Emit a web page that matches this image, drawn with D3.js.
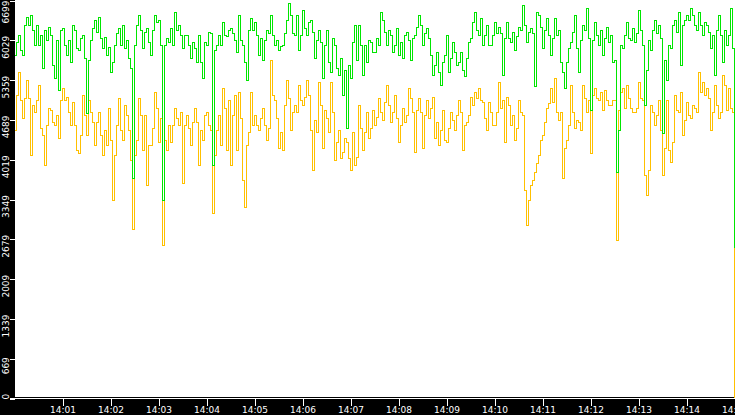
<!DOCTYPE html>
<html>
<head>
<meta charset="utf-8">
<script src="https://cdn.jsdelivr.net/npm/d3@7"></script>
<style>
  html, body { margin: 0; padding: 0; background: #000; overflow: hidden; }
  svg { display: block; }
  text { font-family: "DejaVu Sans", Verdana, sans-serif; font-size: 9px; fill: #fff; }
</style>
</head>
<body>
<svg id="chart" width="735" height="415"></svg>
<script>
// y tick labels as the chart prints them
var yTicks = [0, 669, 1339, 2009, 2679, 3349, 4019, 4689, 5359, 6029, 6699];

// one sample every 2.5 s, starting 14:00:00
var sampleSec = 2.5;
var startTime = new Date(2000, 0, 1, 14, 0, 0);
var endTime = new Date(2000, 0, 1, 14, 15, 0);

var greenVals = [
  5770,5990, 6110,5860, 5770,6280, 6410,6280, 6450,6190, 5940,6280, 5940,6110, 5550,6190, 6030,6250, 6110,5610,
  5390,6030, 5180,6190, 6230,5940, 5770,6030, 5660,6280, 6190,5890, 5860,6060, 6110,5720, 4800,5690, 6030,6230,
  6360,6160, 6410,6060, 5890,6080, 5770,5910, 5490,5660, 5940,6140, 6230,5940, 6280,5890, 6030,5720, 5550,3700,
  5940,6280, 6450,6190, 5890,6160, 6230,5990, 5770,6190, 6450,6330, 6360,5940, 3330,5940, 6060,5990, 6230,5940,
  6500,6190, 6280,6110, 5890,6110, 6110,5940, 5720,5990, 5890,5660, 6110,5660, 5390,5990, 5940,6160, 6140,3920,
  5860,5940, 6110,5940, 6330,6110, 6090,6190, 6230,6140, 6030,5820, 6450,6030, 5940,5660, 5350,6190, 6400,6190,
  6330,6110, 5770,6060, 5690,6030, 6190,6140, 6450,6110, 5940,6030, 5860,5920, 5940,6140, 6360,6650, 6450,6140,
  6110,6450, 5860,6110, 6530,6230, 6110,6330, 6360,6160, 5720,6030, 6190,5990, 5390,5940, 6190,5660, 5490,6060,
  5940,5550, 5440,5720, 5100,5520, 4540,5610, 5390,5990, 6280,5690, 6280,5940, 5440,5940, 5660,6030, 5990,5820,
  5820,6060, 5940,6500, 6360,6160, 5940,6190, 6110,5820, 5940,6230, 5770,5990, 5720,6110, 6160,6030, 5690,6060,
  6110,6250, 6450,6280, 5940,6140, 6230,6060, 5770,5440, 5610,5820, 5490,5270, 5660,5770, 6110,5490, 5720,5990,
  5820,5610, 5660,5820, 5520,5420, 5720,5990, 6060,6330, 6500,6190, 6110,6400, 5940,6110, 6280,5940, 5940,6110,
  6330,6140, 6250,6140, 5440,6060, 6330,6060, 5990,6160, 5860,6090, 6250,6190, 6620,6280, 5990,6160, 6230,6140,
  5250,6500, 6450,6250, 5890,6190, 6400,6110, 5770,6060, 6400,6110, 6190,5660, 5490,5220, 5660,5890, 5990,6160,
  6450,5890, 5490,6030, 6280,6190, 6570,6060, 4850,6030, 6330,6110, 5940,6190, 5770,6060, 6250,5990, 6110,5660,
  5690,3800, 4510,5940, 5890,6110, 6330,6060, 6030,6230, 5990,6140, 6530,6190, 5940,4930, 5520,6030, 5860,6190,
  6360,6140, 6280,6060, 4460,5690, 5350,5940, 5890,6280, 6360,6160, 6500,5610, 6280,6360, 6450,6360, 6570,6450,
  6280,6190, 6500,6280, 6110,6330, 6280,6160, 5890,6110, 5440,6190, 6450,6110, 5660,6190, 5940,6110, 6570,5890,
  2540
];

var orangeVals = [
  4510,5100, 5490,5020, 4710,5050, 5350,5050, 4090,4930, 4810,5020, 5270,4540, 4430,3920, 4600,4880, 4850,4650,
  4600,4760, 4380,5020, 5220,5020, 5070,4810, 4600,4980, 4600,4170, 4120,4430, 5100,4760, 4430,5020, 4810,4650,
  4260,4650, 4810,4430, 4090,4510, 4260,4880, 4340,3330, 4090,4600, 5050,4510, 4340,4930, 4760,4510, 4010,2840,
  4090,4340, 5050,4760, 4170,4760, 3590,4260, 4260,4540, 5150,4880, 4310,4710, 2580,4340, 4170,4600, 4310,4600,
  4880,4710, 4600,4810, 3620,4600, 4760,4540, 4260,4650, 4880,4650, 3920,4510, 4340,4760, 4810,4600, 4510,3110,
  4090,4510, 4760,4260, 5220,4880, 4170,5020, 3920,4760, 5100,4170, 5150,4710, 3670,3220, 4260,4480, 5150,4600,
  4760,4600, 4510,4710, 4880,4600, 4340,4540, 5690,5100, 5020,4710, 4210,4480, 4170,4930, 5350,5050, 4510,4810,
  4930,4810, 5270,5020, 4930,5070, 5350,5100, 4510,3840, 4680,4480, 5320,4930, 4210,4850, 4710,4480, 5320,4810,
  4010,4310, 4510,4040, 4140,4380, 4310,4040, 3840,4480, 3920,4060, 4930,4540, 4170,4480, 4810,4380, 4540,4850,
  4600,4730, 5050,4810, 4680,4980, 5270,4930, 4650,4810, 5100,4710, 4310,4600, 4880,4650, 4760,5220, 5050,4810,
  4140,4850, 5050,4810, 4210,4760, 5020,4710, 4880,5070, 4380,4650, 4260,4510, 4850,4340, 4310,4540, 4810,4680,
  4510,4760, 5020,4810, 4170,4600, 4650,4760, 5070,4930, 5150,5050, 5220,5020, 4980,4710, 4510,4980, 4810,4600,
  4600,4810, 5320,4880, 5020,4310, 5070,4930, 4600,4760, 4340,4540, 5020,4810, 4760,3500, 2910,3330, 3590,3670,
  3800,3960, 4090,4340, 4430,4650, 4880,4970, 5220,4980, 5390,4810, 4680,4810, 3700,4210, 4340,4600, 5270,4810,
  4540,4680, 4650,4510, 5270,5050, 4810,5020, 4120,5100, 5220,5050, 5020,5150, 4850,5180, 5020,4930, 4930,5020,
  5020,2660, 4850,5150, 5220,4880, 5270,5050, 4880,4810, 4810,4880, 5320,5050, 5020,3750, 3420,3840, 4930,4810,
  4600,4760, 5020,4510, 3750,4210, 5020,4170, 3970,4310, 5100,4850, 4810,5150, 4430,4680, 4980,4760, 4710,4930,
  4880,4810, 5490,5150, 5320,5100, 5220,5050, 4510,4810, 5270,4930, 4710,4810, 5440,5270, 4850,5220, 4880,4810,
  0
];

var svg = d3.select("#chart");

var x = d3.scaleTime().domain([startTime, endTime]).range([14.5, 734.5]);
var y = d3.scaleLinear().domain([0, 6699]).range([398.5, 0.5]);

function rows(vals) {
  return vals.map(function(v, i) {
    return { t: new Date(+startTime + i * sampleSec * 1000), v: v };
  });
}

// background + white plot area
svg.append("rect").attr("width", 735).attr("height", 415).attr("fill", "#000");
svg.append("rect").attr("x", 15).attr("y", 0).attr("width", 720).attr("height", 397).attr("fill", "#fff");

svg.append("clipPath").attr("id", "plotclip")
  .append("rect").attr("x", 15).attr("y", 0).attr("width", 720).attr("height", 399);

var line = d3.line()
  .x(function(d) { return x(d.t); })
  .y(function(d) { return y(d.v); })
  .curve(d3.curveStepAfter);

var plot = svg.append("g").attr("clip-path", "url(#plotclip)");

plot.append("path").datum(rows(orangeVals))
  .attr("d", line).attr("fill", "none")
  .attr("stroke", "#ffc000").attr("stroke-width", 1)
  .attr("shape-rendering", "crispEdges");

plot.append("path").datum(rows(greenVals))
  .attr("d", line).attr("fill", "none")
  .attr("stroke", "#00e600").attr("stroke-width", 1)
  .attr("shape-rendering", "crispEdges");

// x axis
var xAxis = d3.axisBottom(x)
  .tickValues(d3.timeMinute.range(new Date(2000, 0, 1, 14, 1), new Date(2000, 0, 1, 14, 16)))
  .tickFormat(d3.timeFormat("%H:%M"))
  .tickSize(7)
  .tickPadding(1);

var gx = svg.append("g").attr("transform", "translate(0,398.5)").call(xAxis);
gx.select(".domain").remove();
gx.selectAll(".tick line").attr("stroke", "#fff").attr("shape-rendering", "crispEdges");
gx.selectAll(".tick text").attr("fill", "#fff").style("font-size", "9px")
  .style("font-family", "'DejaVu Sans', Verdana, sans-serif");

svg.append("line")
  .attr("x1", 10).attr("x2", 735).attr("y1", 398.5).attr("y2", 398.5)
  .attr("stroke", "#fff").attr("shape-rendering", "crispEdges");

// y axis, labels rotated and kept inside the strip
var yAxis = d3.axisLeft(y).tickValues(yTicks).tickFormat(d3.format("d")).tickSize(5);
var gy = svg.append("g").attr("transform", "translate(15,0)").call(yAxis);
gy.select(".domain").remove();
gy.selectAll(".tick line").attr("stroke", "#fff").attr("shape-rendering", "crispEdges");
gy.selectAll(".tick text").each(function(d) {
  var t = d3.select(this)
    .attr("x", null).attr("dy", null)
    .attr("fill", "#fff").attr("text-anchor", "middle")
    .style("font-size", "9px")
    .style("font-family", "'DejaVu Sans', Verdana, sans-serif");
  var w = this.getComputedTextLength();
  var ty = y(d);
  var c = Math.max(w / 2, Math.min(399 - w / 2, ty + 6.5));
  t.attr("transform", "translate(-5.7," + (c - ty) + ") rotate(-90)");
});
</script>
</body>
</html>
